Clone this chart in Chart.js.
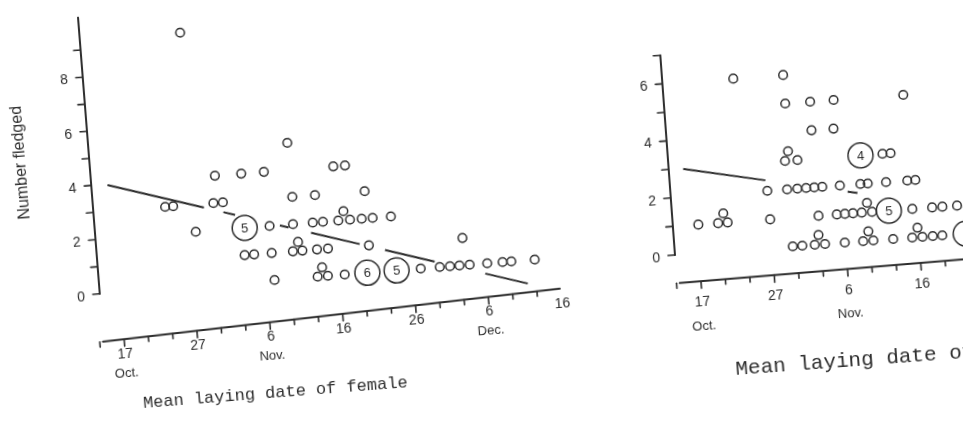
<!DOCTYPE html>
<html>
<head>
<meta charset="utf-8">
<script src="https://cdn.jsdelivr.net/npm/chart.js@4.4.1/dist/chart.umd.min.js"></script>
<style>
  html, body { margin: 0; padding: 0; background: #fff; overflow: hidden; }
  body { width: 963px; height: 430px; position: relative; }
  canvas { position: absolute; top: 0; }
  /* the printed figure sits slightly turned on the page */
  #left  { left: 0;     transform-origin: 100px 297px; transform: rotate(-4.5deg); }
  #right { left: 590px; transform-origin: 85px 255px;  transform: rotate(-4.2deg); }
</style>
</head>
<body>
<canvas id="left" width="620" height="430"></canvas>
<canvas id="right" width="600" height="430"></canvas>
<script>
// x values are days counted from 1 Oct (Oct 17 = 17, Nov 6 = 37, Dec 6 = 67)
// stacked circles (same value, drawn as a little pyramid) have their top one a third higher

const leftDays = [27.9, 41.3, 47.3, 48.9, 31.1, 34.7, 37.8, 41.4, 44.5, 51.3, 24.0, 25.1, 30.6, 31.9,
  47.4, 49.0, 48.2, 54.6, 27.9, 38.0, 41.2, 43.9, 45.3, 50.6, 52.1,
  64.1, 51.3, 40.9, 42.2, 41.7, 34.3, 35.6, 38.0, 44.2, 45.7,
  38.1, 44.0, 45.4, 44.7, 47.7, 58.1, 60.7, 62.1, 63.4, 64.8, 67.2, 69.3, 70.5, 73.7];
const leftFledged = [9.35, 5, 4, 4, 4, 4, 4, 3, 3, 3, 3, 3, 3, 3,
  2, 2, 2.33, 2, 2, 2, 2, 2, 2, 2, 2,
  1, 1, 1, 1, 1.33, 1, 1, 1, 1, 1,
  0, 0, 0, 0.33, 0, 0, 0, 0, 0, 0, 0, 0, 0, 0];

// ringed points: number of females sharing that point
const leftRingDays = [34.6, 50.8, 54.8];
const leftRingFledged = [2, 0, 0];
const leftRingCounts = ['5', '6', '5'];

const leftFitDays = [16.4, 72.5];
const leftFitValues = [3.97, -0.86];

const rightDays = [23.4, 30.2, 30.2, 33.6, 36.8, 46.3, 33.5, 36.5, 29.6, 31.3, 30.1, 42.9, 44.0,
  26.9, 29.6, 31.0, 32.2, 33.3, 34.4, 36.8, 39.6, 40.6, 43.1, 46.0, 47.1,
  17.2, 19.9, 21.2, 20.7, 27.0, 33.6, 36.1, 37.2, 38.3, 39.5, 40.9, 40.3, 46.4, 49.1, 50.5, 52.5,
  29.8, 31.1, 32.8, 34.2, 33.4, 36.9, 39.4, 40.8, 40.2, 43.5, 46.1, 47.5, 46.9, 48.9, 50.2];
const rightFledged = [6, 6, 5, 5, 5, 5, 4, 4, 3, 3, 3.33, 3, 3,
  2, 2, 2, 2, 2, 2, 2, 2, 2, 2, 2, 2,
  1, 1, 1, 1.33, 1, 1, 1, 1, 1, 1, 1, 1.33, 1, 1, 1, 1,
  0, 0, 0, 0, 0.33, 0, 0, 0, 0.33, 0, 0, 0, 0.33, 0, 0];

const rightRingDays = [39.9, 43.2, 53.4];
const rightRingFledged = [3, 1, 0];
const rightRingCounts = ['4', '5', ''];

const rightFitDays = [15.7, 72.5];
const rightFitValues = [2.98, -0.14];

const dayTicks = [17, 27, 37, 47, 57, 67, 77];
const dayTickLabels = ['17', '27', '6', '16', '26', '6', '16'];
const monthDays = [17, 37, 67];
const monthLabels = ['Oct.', 'Nov.', 'Dec.'];

const leftYLabels = [0, 2, 4, 6, 8];
const rightYLabels = [0, 2, 4, 6];

const ink = '#2d2d2d';
const tickFont = '14px "Liberation Sans", Arial, sans-serif';

function toPoints(xs, ys) {
  return xs.map((x, i) => ({ x: x, y: ys[i] }));
}

// axes drawn by hand: y axis offset from the x axis, x axis slightly tilted like the print
function paperAxes(g) {
  return {
    id: 'paperAxes',
    afterDatasetsDraw(chart) {
      const ctx = chart.ctx;
      const xs = chart.scales.x, ys = chart.scales.y;
      const y0 = ys.getPixelForValue(0);
      ctx.save();
      ctx.strokeStyle = ink;
      ctx.fillStyle = ink;
      ctx.lineCap = 'round';

      // y axis
      const ax = xs.getPixelForValue(g.yAxisDay);
      ctx.lineWidth = 2;
      ctx.beginPath();
      ctx.moveTo(ax, y0);
      ctx.lineTo(ax, ys.getPixelForValue(g.yAxisTop));
      ctx.stroke();
      ctx.lineWidth = 1.6;
      for (let v = 0; v <= g.yTickTop; v++) {
        const y = ys.getPixelForValue(v);
        ctx.beginPath();
        ctx.moveTo(ax - 7, y);
        ctx.lineTo(ax, y);
        ctx.stroke();
      }
      ctx.font = tickFont;
      ctx.textAlign = 'right';
      ctx.textBaseline = 'middle';
      g.yLabels.forEach(v => ctx.fillText(String(v), ax - 15, ys.getPixelForValue(v) + 2));

      if (g.yTitle) {
        ctx.save();
        ctx.translate(ax - 68, ys.getPixelForValue(5.04));
        ctx.rotate(-Math.PI / 2);
        ctx.textAlign = 'center';
        ctx.font = '16px "Liberation Sans", Arial, sans-serif';
        ctx.fillText(g.yTitle, 0, 0);
        ctx.restore();
      }

      // x axis
      const axisY = d => y0 + g.dropStart + (g.dropEnd - g.dropStart) * (d - g.xStart) / (g.xEnd - g.xStart);
      ctx.lineWidth = 2;
      ctx.beginPath();
      ctx.moveTo(xs.getPixelForValue(g.xStart), axisY(g.xStart));
      ctx.lineTo(xs.getPixelForValue(g.xEnd), axisY(g.xEnd));
      ctx.stroke();
      ctx.lineWidth = 1.6;
      for (let k = -1; k <= 19; k++) {
        const d = 17 + k * 10 / 3;
        if (d < g.xStart - 0.5 || d > g.xEnd + 0.1) continue;
        const x = xs.getPixelForValue(d);
        const len = k % 3 === 0 ? 7 : 5;
        ctx.beginPath();
        ctx.moveTo(x, axisY(d));
        ctx.lineTo(x, axisY(d) + len);
        ctx.stroke();
      }
      ctx.textAlign = 'center';
      ctx.font = tickFont;
      dayTicks.forEach((d, i) => {
        ctx.fillText(dayTickLabels[i], xs.getPixelForValue(d), axisY(d) + g.numberDrop);
      });
      ctx.font = '13px "Liberation Sans", Arial, sans-serif';
      monthDays.forEach((d, i) => {
        ctx.fillText(monthLabels[i], xs.getPixelForValue(d), axisY(d) + g.monthDrop);
      });

      ctx.font = g.titleFont;
      ctx.textAlign = 'left';
      ctx.fillText(g.xTitle, xs.getPixelForValue(g.titleDay), y0 + g.titleDrop);

      // counts inside the ringed points
      ctx.font = '13px "Liberation Sans", Arial, sans-serif';
      ctx.textAlign = 'center';
      chart.getDatasetMeta(1).data.forEach((el, i) => {
        ctx.fillText(g.ringCounts[i], el.x, el.y + 1);
      });
      ctx.restore();
    }
  };
}

function drawPanel(id, g, points, rings, fit, dash) {
  const canvas = document.getElementById(id);
  const w = canvas.width, h = canvas.height;
  const zeroDayPx = g.originX + g.day17Px;
  const padding = {
    left: zeroDayPx - g.pxPerDay * (17 - g.xMin),
    right: w - (zeroDayPx + g.pxPerDay * (g.xMax - 17)),
    top: g.originY - g.pxPerUnit * g.yMax,
    bottom: h - (g.originY - g.pxPerUnit * g.yMin)
  };
  return new Chart(canvas, {
    type: 'scatter',
    data: {
      datasets: [
        {
          data: points,
          pointRadius: 4.3,
          pointHoverRadius: 4.3,
          pointBorderWidth: 1.5,
          pointBorderColor: ink,
          pointBackgroundColor: 'rgba(0,0,0,0)'
        },
        {
          data: rings,
          pointRadius: 12.5,
          pointHoverRadius: 12.5,
          pointBorderWidth: 1.5,
          pointBorderColor: ink,
          pointBackgroundColor: 'rgba(0,0,0,0)'
        },
        {
          data: fit,
          showLine: true,
          pointRadius: 0,
          borderColor: ink,
          borderWidth: 2,
          borderDash: dash
        }
      ]
    },
    options: {
      responsive: false,
      animation: false,
      events: [],
      layout: { padding: padding },
      plugins: { legend: { display: false }, tooltip: { enabled: false } },
      scales: {
        x: { type: 'linear', display: false, min: g.xMin, max: g.xMax },
        y: { type: 'linear', display: false, min: g.yMin, max: g.yMax }
      }
    },
    plugins: [paperAxes(g)]
  });
}

drawPanel('left', {
  originX: 100, originY: 297, day17Px: 20.7, pxPerDay: 7.33, pxPerUnit: 28.7,
  xMin: 10, xMax: 80, yMin: -4.5, yMax: 10.3,
  yAxisDay: 14.18, yAxisTop: 10.2, yTickTop: 9, yLabels: leftYLabels,
  yTitle: 'Number fledged',
  xStart: 14.1, xEnd: 76.8, dropStart: 48, dropEnd: 31,
  numberDrop: 15, monthDrop: 34,
  xTitle: 'Mean laying date of female', titleDay: 18.9, titleDrop: 113,
  titleFont: '17px "Liberation Mono", "Courier New", monospace',
  ringCounts: leftRingCounts
}, toPoints(leftDays, leftFledged), toPoints(leftRingDays, leftRingFledged),
   toPoints(leftFitDays, leftFitValues), [99, 20, 12, 46, 9, 23, 50, 26, 51, 52, 47, 60]);

drawPanel('right', {
  originX: 85, originY: 255, day17Px: 24, pxPerDay: 7.35, pxPerUnit: 28.6,
  xMin: 10, xMax: 80, yMin: -5, yMax: 8,
  yAxisDay: 13.73, yAxisTop: 7, yTickTop: 7, yLabels: rightYLabels,
  yTitle: '',
  xStart: 14.1, xEnd: 80, dropStart: 28.3, dropEnd: 23.6,
  numberDrop: 21, monthDrop: 45,
  xTitle: 'Mean laying date of female', titleDay: 20.8, titleDrop: 118,
  titleFont: '21px "Liberation Mono", "Courier New", monospace',
  ringCounts: rightRingCounts
}, toPoints(rightDays, rightFledged), toPoints(rightRingDays, rightRingFledged),
   toPoints(rightFitDays, rightFitValues), [83, 83, 10, 300]);
</script>
</body>
</html>
